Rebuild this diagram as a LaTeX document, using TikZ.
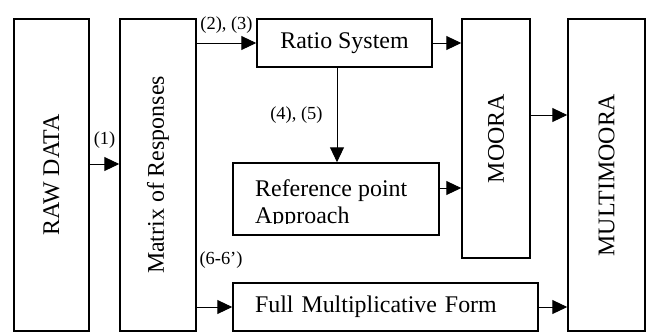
\documentclass[tikz,border=0pt]{standalone}
\usepackage{fontspec}
\setmainfont{Liberation Serif}
\usepackage{graphicx}
\usetikzlibrary{arrows.meta}
\begin{document}
\begin{tikzpicture}[x=1bp,y=-1bp]
        \useasboundingbox (0,0) rectangle (648,334);

        \begin{scope}[every node/.style={draw, rectangle, line width=1.5bp, inner sep=0pt, font=\fontsize{24}{28}\selectfont}]
          \node[minimum width=75bp,  minimum height=312bp] (raw)   at (51.5,175)  {\rotatebox{90}{RAW DATA}};
          \node[minimum width=76bp,  minimum height=312bp] (mat)   at (158,175)   {\rotatebox{90}{Matrix of Responses}};
          \node[minimum width=175bp, minimum height=48bp]  (ratio) at (344.5,43)  {Ratio System};
          \node[minimum width=206bp, minimum height=72bp]  (ref)   at (336,199)   {};
          \node[text width=261bp, inner xsep=22bp, align=left, minimum height=48bp] (full) at (385.5,307) {Full Multiplicative Form};
          \node[minimum width=68bp,  minimum height=239bp] (moora) at (496,138.5) {\rotatebox{90}{MOORA}};
          \node[minimum width=77bp,  minimum height=312bp] (multi) at (606.5,175) {\rotatebox{90}{MULTIMOORA}};
        \end{scope}

        \begin{scope}
          \clip (ref.north west) rectangle ([yshift=12bp]ref.south east);
          \node[anchor=north west, inner sep=0pt, align=left, font=\fontsize{24}{28}\selectfont] (reftext) at (255,179) {Reference point\\Approach};
        \end{scope}

        \begin{scope}[every node/.style={inner sep=0pt, font=\fontsize{18.5}{22}\selectfont}]

          \begin{scope}[every edge/.style={draw, line width=1bp, -{Triangle[length=15bp,width=14bp]}}]
            \path (raw.east |- 0,164)   edge node[above=15bp] {(1)} (mat.west |- 0,164);
            \path (mat.east |- ratio)   edge node[above=9bp] {(2), (3)} (ratio.west);
            \path (ratio.south -| 337,0) edge node[left=14bp] {(4), (5)} (ref.north -| 337,0);
            \path (mat.east |- full)    edge (full.west);
            \path (ratio.east)          edge (ratio.east -| moora.west);
            \path (ref.east |- 0,188)   edge (moora.west |- 0,188);
            \path (moora.east |- 0,115) edge (multi.west |- 0,115);
            \path (full.east)           edge (full.east -| multi.west);
          \end{scope}

          \node (lab6) at (221,260) {(6-6’)};
        \end{scope}

      \end{tikzpicture}
\end{document}
